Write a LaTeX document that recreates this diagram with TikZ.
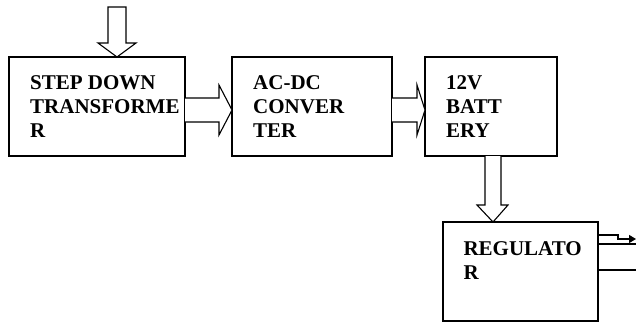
\documentclass[tikz,border=0pt]{standalone}
\usepackage{fontspec}
\setmainfont{Liberation Serif}
\usetikzlibrary{arrows.meta}
\tikzset{
  blk/.style={draw=black, line width=1.4pt},
  barrow/.style={draw=black, line width=1.1pt, fill=white, line join=miter},
  lbl/.style={anchor=base west, inner sep=0pt, font=\fontsize{21}{24}\selectfont\bfseries},
  wire/.style={draw=black, line width=1.1pt}
}
\newcommand{\lines}[1]{\vtop{\baselineskip=24pt\lineskiplimit=-20pt #1}}
\begin{document}
\begin{tikzpicture}[x=1pt,y=-1pt]
\useasboundingbox (0,0) rectangle (636,324);
% boxes
\draw[blk] (9,57) rectangle (185,156);
\coordinate (b1) at (9,57);
\draw[blk] (232,57) rectangle (392,156);
\draw[blk] (425,57) rectangle (557,156);
\draw[blk] (443,222) rectangle (598,321);
% labels
\node[lbl] (t1) at (30,89.3) {\lines{\hbox{STEP DOWN}\hbox{TRANSFORME}\hbox{R}}};
\node[lbl] (t2) at (253,89.3) {\lines{\hbox{AC-DC}\hbox{CONVER}\hbox{TER}}};
\node[lbl] (t3) at (446,89) {\lines{\hbox{12V}\hbox{BATT}\hbox{ERY}}};
\node[lbl] (t4) at (463.3,255) {\lines{\hbox{REGULATO}\hbox{R}}};
% input arrow
\draw[barrow] (108,7) -- (126,7) -- (126,43) -- (136,43) -- (117,57) -- (98,43) -- (108,43) -- cycle;
% arrow 1
\draw[barrow] (185,98) -- (219,98) -- (219,85) -- (232,110) -- (219,135) -- (219,122) -- (185,122);
% arrow 2
\draw[barrow] (392,98) -- (417,98) -- (417,85) -- (425,110) -- (417,135) -- (417,122) -- (392,122);
% down arrow
\draw[barrow] (485,156) -- (485,205) -- (477,205) -- (493,222) -- (508,205) -- (501,205) -- (501,156);
% outputs
\coordinate (o1) at (636,239);
\draw[wire, -{Triangle[length=7pt,width=8pt]}] (598,235) -- (618,235) -- (618,239) -- (o1);
\coordinate (o2) at (636,244);
\draw[wire] (598,244) -- (o2);
\coordinate (o3) at (636,270);
\draw[wire] (598,270) -- (o3);
\end{tikzpicture}
\end{document}
